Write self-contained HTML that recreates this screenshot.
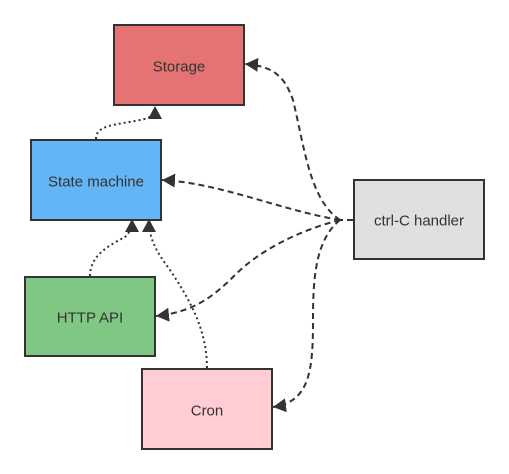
<!DOCTYPE html>
<html><head><style>
html,body{margin:0;padding:0;background:#fff;}
svg{display:block;}
text{font-family:"Liberation Sans",sans-serif;font-size:15px;fill:#333;text-anchor:middle;dominant-baseline:central;}
</style></head><body>
<svg width="509" height="474" viewBox="0 0 509 474">
<defs>
<marker id="a" markerWidth="16" markerHeight="16" refX="13" refY="7" orient="auto" markerUnits="userSpaceOnUse">
<path d="M0,0 L13,7 L0,14 Z" fill="#333"/>
</marker>
</defs>
<rect x="114" y="25" width="130" height="80" fill="#e57373" stroke="#333" stroke-width="2"/>
<text x="179" y="67">Storage</text>
<rect x="31" y="140" width="130" height="80" fill="#64b5f6" stroke="#333" stroke-width="2"/>
<text x="96" y="182">State machine</text>
<rect x="354" y="180" width="130" height="79" fill="#e0e0e0" stroke="#333" stroke-width="2"/>
<text x="419" y="221">ctrl-C handler</text>
<rect x="25" y="277" width="130" height="79" fill="#81c784" stroke="#333" stroke-width="2"/>
<text x="90" y="318">HTTP API</text>
<rect x="142" y="369" width="130" height="80" fill="#ffcdd2" stroke="#333" stroke-width="2"/>
<text x="207" y="411">Cron</text>
<g fill="none" stroke="#333" stroke-width="2">
<g stroke-dasharray="6,4">
<line x1="353" y1="220" x2="340" y2="220"/>
<path d="M340,220 C310,200 305,150 293,100 C285,78 275,66 245,64" marker-end="url(#a)"/>
<path d="M340,220 C280,210 220,183 162,180" marker-end="url(#a)"/>
<path d="M340,220 C300,230 260,250 235,275 C215,295 195,312 156,316" marker-end="url(#a)"/>
<path d="M340,220 C315,240 313,280 313,320 C313,370 310,402 273,407" marker-end="url(#a)"/>
</g>
<g stroke-dasharray="2,3">
<path d="M96,139 C96,125 115,125 140,120 C150,118 155,116 155,106" marker-end="url(#a)"/>
<path d="M90,276 C90,255 110,245 125,237 C130,232 132,228 132,219" marker-end="url(#a)"/>
<path d="M207,368 C207,330 190,300 170,270 C155,250 149,238 149,219" marker-end="url(#a)"/>
</g>
</g>
</svg>
</body></html>
